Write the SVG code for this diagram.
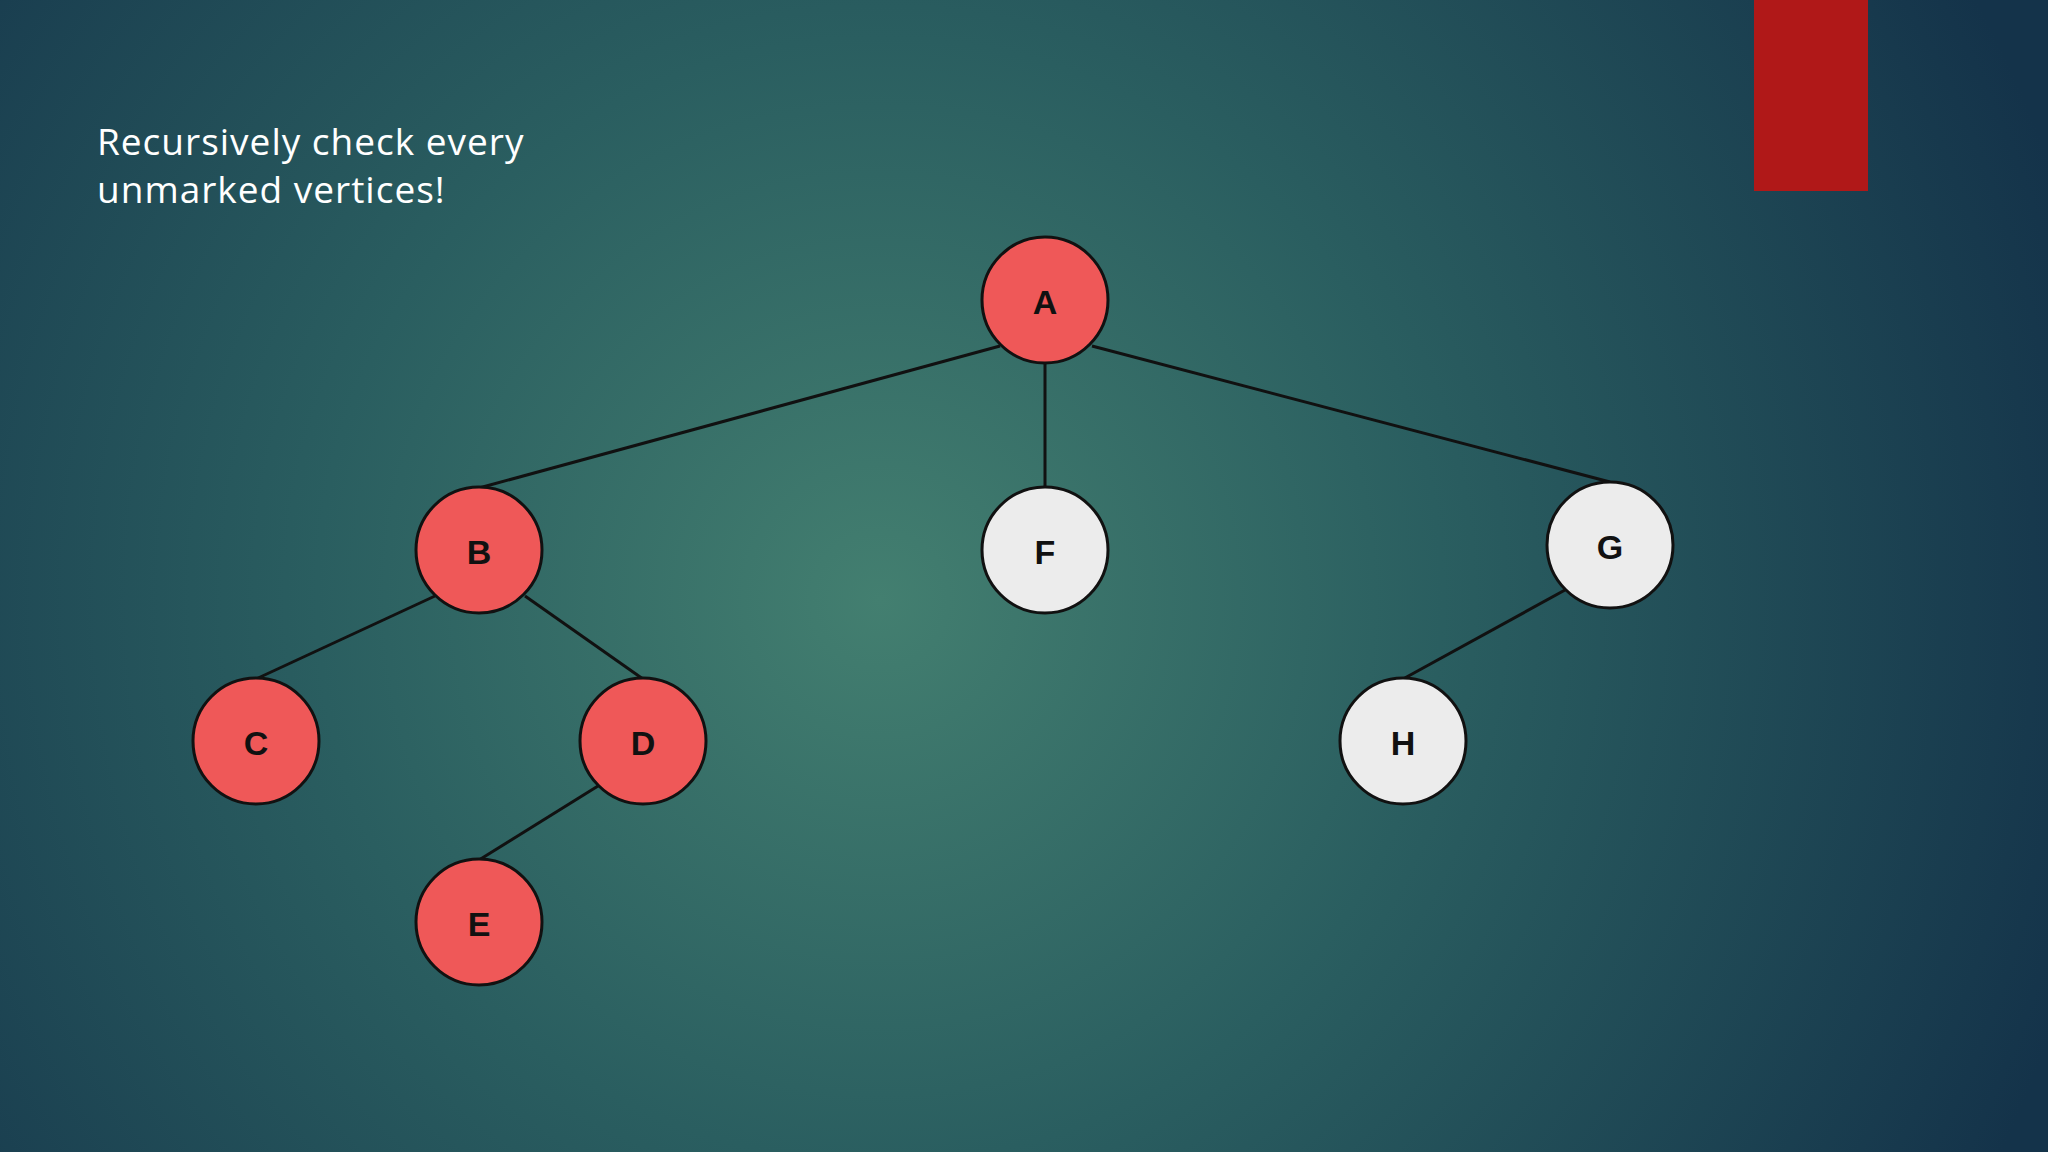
<svg xmlns="http://www.w3.org/2000/svg" width="2048" height="1152" viewBox="0 0 2048 1152">
<defs>
<radialGradient id="bg" cx="880" cy="600" r="1250" gradientUnits="userSpaceOnUse">
<stop offset="0" stop-color="#437f70"/>
<stop offset="0.45" stop-color="#2a5e60"/>
<stop offset="1" stop-color="#14334a"/>
</radialGradient>
<style>
.n circle{stroke:#111;stroke-width:3}
.red circle{fill:#ef5858}
.wh circle{fill:#ececec}
.n text{font-family:"Liberation Sans",Arial,sans-serif;font-weight:bold;font-size:34px;fill:#111;text-anchor:middle;dominant-baseline:central}
#edges line{stroke:#111;stroke-width:3}
.t{font-family:"Open Sans","Liberation Sans",sans-serif;font-size:37px;fill:#fff;letter-spacing:1px}
</style>
</defs>
<rect width="2048" height="1152" fill="url(#bg)"/>
<rect x="1754" y="0" width="114" height="191" fill="#b01818"/>
<text class="t" x="97" y="155">Recursively check every</text>
<text class="t" x="97" y="203">unmarked vertices!</text>
<g id="edges">
<line x1="1000" y1="346" x2="479" y2="488"/>
<line x1="1045" y1="300" x2="1045" y2="488"/>
<line x1="1092" y1="346" x2="1610" y2="482"/>
<line x1="435" y1="596" x2="256" y2="679"/>
<line x1="525" y1="596" x2="643" y2="679"/>
<line x1="598" y1="786" x2="479" y2="860"/>
<line x1="1565" y1="590" x2="1403" y2="679"/>
</g>
<g id="A" class="n red"><circle cx="1045" cy="300" r="63"/><text x="1045" y="302">A</text></g>
<g id="B" class="n red"><circle cx="479" cy="550" r="63"/><text x="479" y="552">B</text></g>
<g id="F" class="n wh"><circle cx="1045" cy="550" r="63"/><text x="1045" y="552">F</text></g>
<g id="G" class="n wh"><circle cx="1610" cy="545" r="63"/><text x="1610" y="547">G</text></g>
<g id="C" class="n red"><circle cx="256" cy="741" r="63"/><text x="256" y="743">C</text></g>
<g id="D" class="n red"><circle cx="643" cy="741" r="63"/><text x="643" y="743">D</text></g>
<g id="H" class="n wh"><circle cx="1403" cy="741" r="63"/><text x="1403" y="743">H</text></g>
<g id="E" class="n red"><circle cx="479" cy="922" r="63"/><text x="479" y="924">E</text></g>
</svg>
